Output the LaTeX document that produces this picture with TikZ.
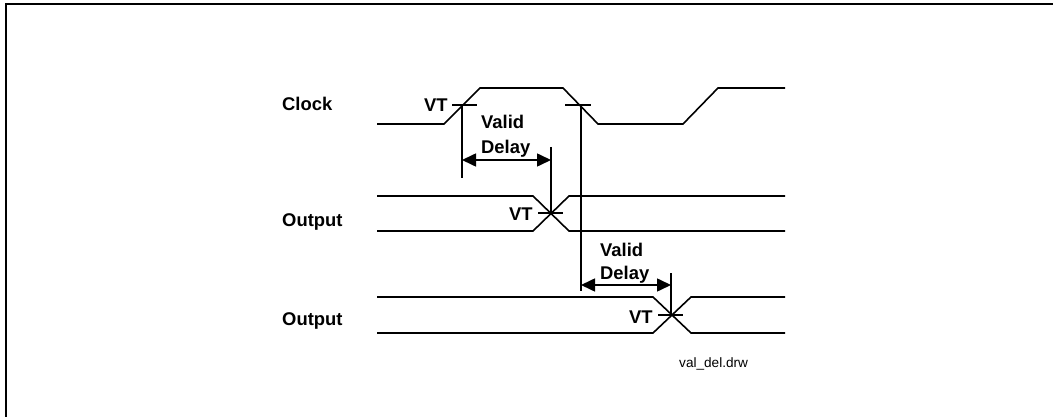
\documentclass[tikz,border=0pt]{standalone}
\usepackage{fontspec}
\setmainfont{Liberation Sans}
\usetikzlibrary{arrows.meta}
\tikzset{
  frameline/.style={line width=2pt},
  wave/.style={line width=1.6pt,line join=miter},
  tick/.style={line width=1.6pt},
  delay/.style={line width=1.6pt,{Triangle[length=14pt,width=13pt]}-{Triangle[length=14pt,width=13pt]}},
  lab/.style={font=\fontsize{18.4}{20}\bfseries\selectfont,inner sep=0pt,anchor=base west},
  fname/.style={font=\fontsize{13.6}{16}\selectfont,inner sep=0pt,anchor=base west}
}
\begin{document}
\begin{tikzpicture}[x=1pt,y=-1pt]
\useasboundingbox (0,0) rectangle (1053,417);
% Frame
\draw[frameline] (6,417) -- (6,4) -- (1053,4);

% Clock
\node[lab] (clock) at (282,111) {Clock};
\draw[wave] (377,124) -- (444,124) -- (480,88) -- (563,88) -- (598,124) -- (683,124) -- (718,88) -- (785,88);
\node[lab] (vtclock) at (424,112) {VT};
\draw[tick] (452,105) -- (477,105);
\draw[tick] (565,105) -- (591,105);
\draw[tick] (462,105) -- (462,178);
\draw[tick] (581,105) -- (581,291);

% Output 1
\node[lab] (outa) at (282,226) {Output};
\draw[wave] (377,196) -- (533,196) -- (569,231) -- (785,231);
\draw[wave] (377,231) -- (533,231) -- (569,196) -- (785,196);
\node[lab] (vta) at (509,221) {VT};
\draw[tick] (538,213) -- (563,213);
\draw[tick] (551,147) -- (551,213);

% Output 2
\node[lab] (outb) at (282,325) {Output};
\draw[wave] (377,297) -- (653,297) -- (691,333) -- (785,333);
\draw[wave] (377,333) -- (653,333) -- (691,297) -- (785,297);
\node[lab] (vtb) at (629,323) {VT};
\draw[tick] (658,315) -- (683,315);
\draw[tick] (671,273) -- (671,315);

% Valid delay
\coordinate (dla) at (462,160);
\coordinate (dlb) at (551,160);
\coordinate (dlc) at (581,285);
\coordinate (dld) at (671,285);
\draw[delay] (dla) -- (dlb);
\draw[delay] (dlc) -- (dld);
\node[lab] (vala) at (481,129) {Valid};
\node[lab] (dela) at (481,154) {Delay};
\node[lab] (valb) at (600,256) {Valid};
\node[lab] (delb) at (600,279) {Delay};

\node[fname] (fname) at (679,367) {val\_del.drw};
\end{tikzpicture}
\end{document}
